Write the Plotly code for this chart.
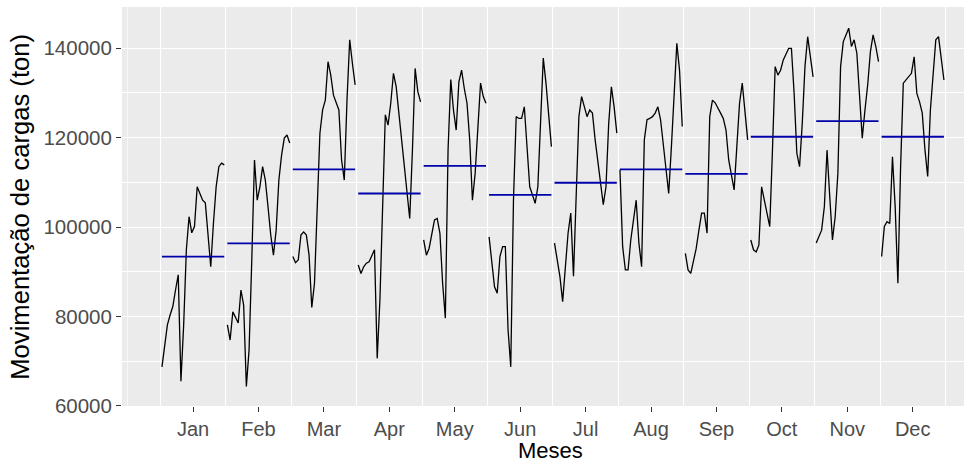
import plotly.graph_objects as go

months = ["Jan", "Feb", "Mar", "Apr", "May", "Jun", "Jul", "Aug", "Sep", "Oct", "Nov", "Dec"]

jan = [68700, 74000, 78100, 80300, 82200, 85900, 89300, 65500, 78000, 94900, 102300, 98700,
       100100, 109000, 107600, 106000, 105400, 98700, 91100, 100900, 109000, 113500, 114300, 113900]
feb = [78100, 74700, 81000, 79600, 78500, 85900, 82500, 64300, 72500, 92600, 115000, 106000,
       109000, 113500, 110500, 104500, 98200, 93700, 99300, 110500, 116100, 119900, 120600, 118800]
mar = [93400, 92000, 92600, 98200, 98900, 98200, 93700, 82000, 87400, 104500, 121000, 126200,
       128400, 137000, 134000, 129500, 127700, 126200, 115000, 110500, 128400, 141900, 136600, 131800]
apr = [91500, 89600, 91100, 91900, 92200, 93400, 94900, 70600, 83700, 104500, 125100, 122800,
       127700, 134400, 131400, 125500, 119500, 114300, 106800, 101900, 117200, 135500, 130300, 128000]
may = [97100, 93700, 95200, 98600, 101600, 101900, 98600, 87400, 79600, 117200, 133000, 126200,
       121700, 132500, 135100, 131000, 127700, 119500, 106000, 112000, 122500, 132200, 129200, 127700]
jun = [97800, 92600, 86600, 85200, 93400, 95600, 95600, 77000, 68700, 106000, 124700, 124300,
       124300, 126900, 117200, 109000, 107200, 105300, 109000, 123200, 137800, 132200, 125500, 118000]
jul = [96400, 92600, 88900, 83300, 91100, 98600, 103100, 89000, 107000, 124700, 129200, 126600,
       124700, 126200, 125500, 119500, 114300, 109400, 105000, 109000, 123200, 131400, 126900, 121000]
aug = [112800, 95600, 90400, 90400, 97100, 101600, 106000, 96400, 91100, 119500, 124000, 124300,
       124700, 125500, 126900, 124000, 118700, 112000, 107500, 118000, 131400, 141100, 135100, 122500]
sep = [94100, 90400, 89600, 92200, 95200, 99300, 103100, 103100, 98600, 124700, 128400, 127800,
       126800, 125500, 124300, 121700, 115000, 111300, 108300, 118000, 127700, 132200, 126200, 119500]
oct_ = [97100, 94900, 94400, 96000, 109000, 106000, 102300, 100100, 117200, 135900, 134000, 135100,
        137400, 138900, 140000, 140000, 129900, 116500, 113500, 123200, 135900, 142600, 138100, 133600]
nov = [96400, 97800, 99300, 104500, 117200, 106800, 97100, 102300, 112000, 135900, 141500, 143000,
       144500, 140400, 141900, 138900, 129900, 119900, 126200, 131800, 139200, 143000, 140400, 137000]
dec = [93400, 100100, 101200, 100800, 115700, 104500, 87400, 113500, 132200, 132900, 133600, 134400,
       138100, 129900, 128000, 125500, 117200, 111300, 126200, 134400, 141900, 142600, 138100, 132900]

month_means = [93350, 96350, 112900, 107500, 113700, 107200, 109900, 112900, 111900, 120200, 123700, 120200]

y_ticks = [60000, 80000, 100000, 120000, 140000]
y_minor = [70000, 90000, 110000, 130000, 150000]

series = [jan, feb, mar, apr, may, jun, jul, aug, sep, oct_, nov, dec]

fig = go.Figure()
for i, vals in enumerate(series):
    m = i + 1
    n = len(vals)
    xs = [m + 0.025 + k / ((n - 1) * 1.05) for k in range(n)]
    fig.add_trace(go.Scatter(x=xs, y=vals, mode="lines",
                             line=dict(color="black", width=1.3),
                             showlegend=False, hoverinfo="skip"))
    fig.add_trace(go.Scatter(x=[xs[0], xs[-1]], y=[month_means[i], month_means[i]], mode="lines",
                             line=dict(color="#0000AA", width=1.8),
                             showlegend=False, hoverinfo="skip"))

font_family = "Liberation Sans, Arial, sans-serif"

fig.update_layout(
    width=964, height=465,
    margin=dict(l=122, r=0, t=7, b=59, pad=0),
    paper_bgcolor="white", plot_bgcolor="#EBEBEB",
    showlegend=False,
    font=dict(family=font_family),
)

fig.update_xaxes(
    range=[0.414, 13.284],
    tickvals=[m + 0.5 for m in range(1, 13)], ticktext=months,
    showgrid=False, zeroline=False, showline=False,
    ticks="outside", ticklen=5, tickwidth=1.1, tickcolor="#333333",
    tickfont=dict(size=20, color="#4D4D4D", family=font_family),
    minor=dict(tickvals=list(range(1, 14)), showgrid=True, gridcolor="white", gridwidth=1.3),
)
fig.update_yaxes(
    range=[59933, 149245],
    tickvals=y_ticks, ticktext=[str(v) for v in y_ticks],
    showgrid=True, gridcolor="white", gridwidth=1.3,
    zeroline=False, showline=False,
    ticks="outside", ticklen=5, tickwidth=1.1, tickcolor="#333333",
    tickfont=dict(size=20.5, color="#4D4D4D", family=font_family),
    minor=dict(tickvals=y_minor, showgrid=True, gridcolor="white", gridwidth=0.7),
)

fig.add_shape(type="line", xref="x", yref="paper", x0=0.5, x1=0.5, y0=0, y1=1,
              line=dict(color="white", width=0.7), layer="between")

fig.add_annotation(text="Meses", xref="paper", yref="paper", x=0.509, y=0,
                   xanchor="center", yanchor="middle", yshift=-44.5, showarrow=False,
                   font=dict(size=22, color="black", family=font_family))
fig.add_annotation(text="Movimentação de cargas (ton)", xref="paper", yref="paper", x=0, y=0.5,
                   xanchor="center", yanchor="middle", xshift=-102.8, textangle=-90, showarrow=False,
                   font=dict(size=25.6, color="black", family=font_family))

fig.write_html("out.html")
